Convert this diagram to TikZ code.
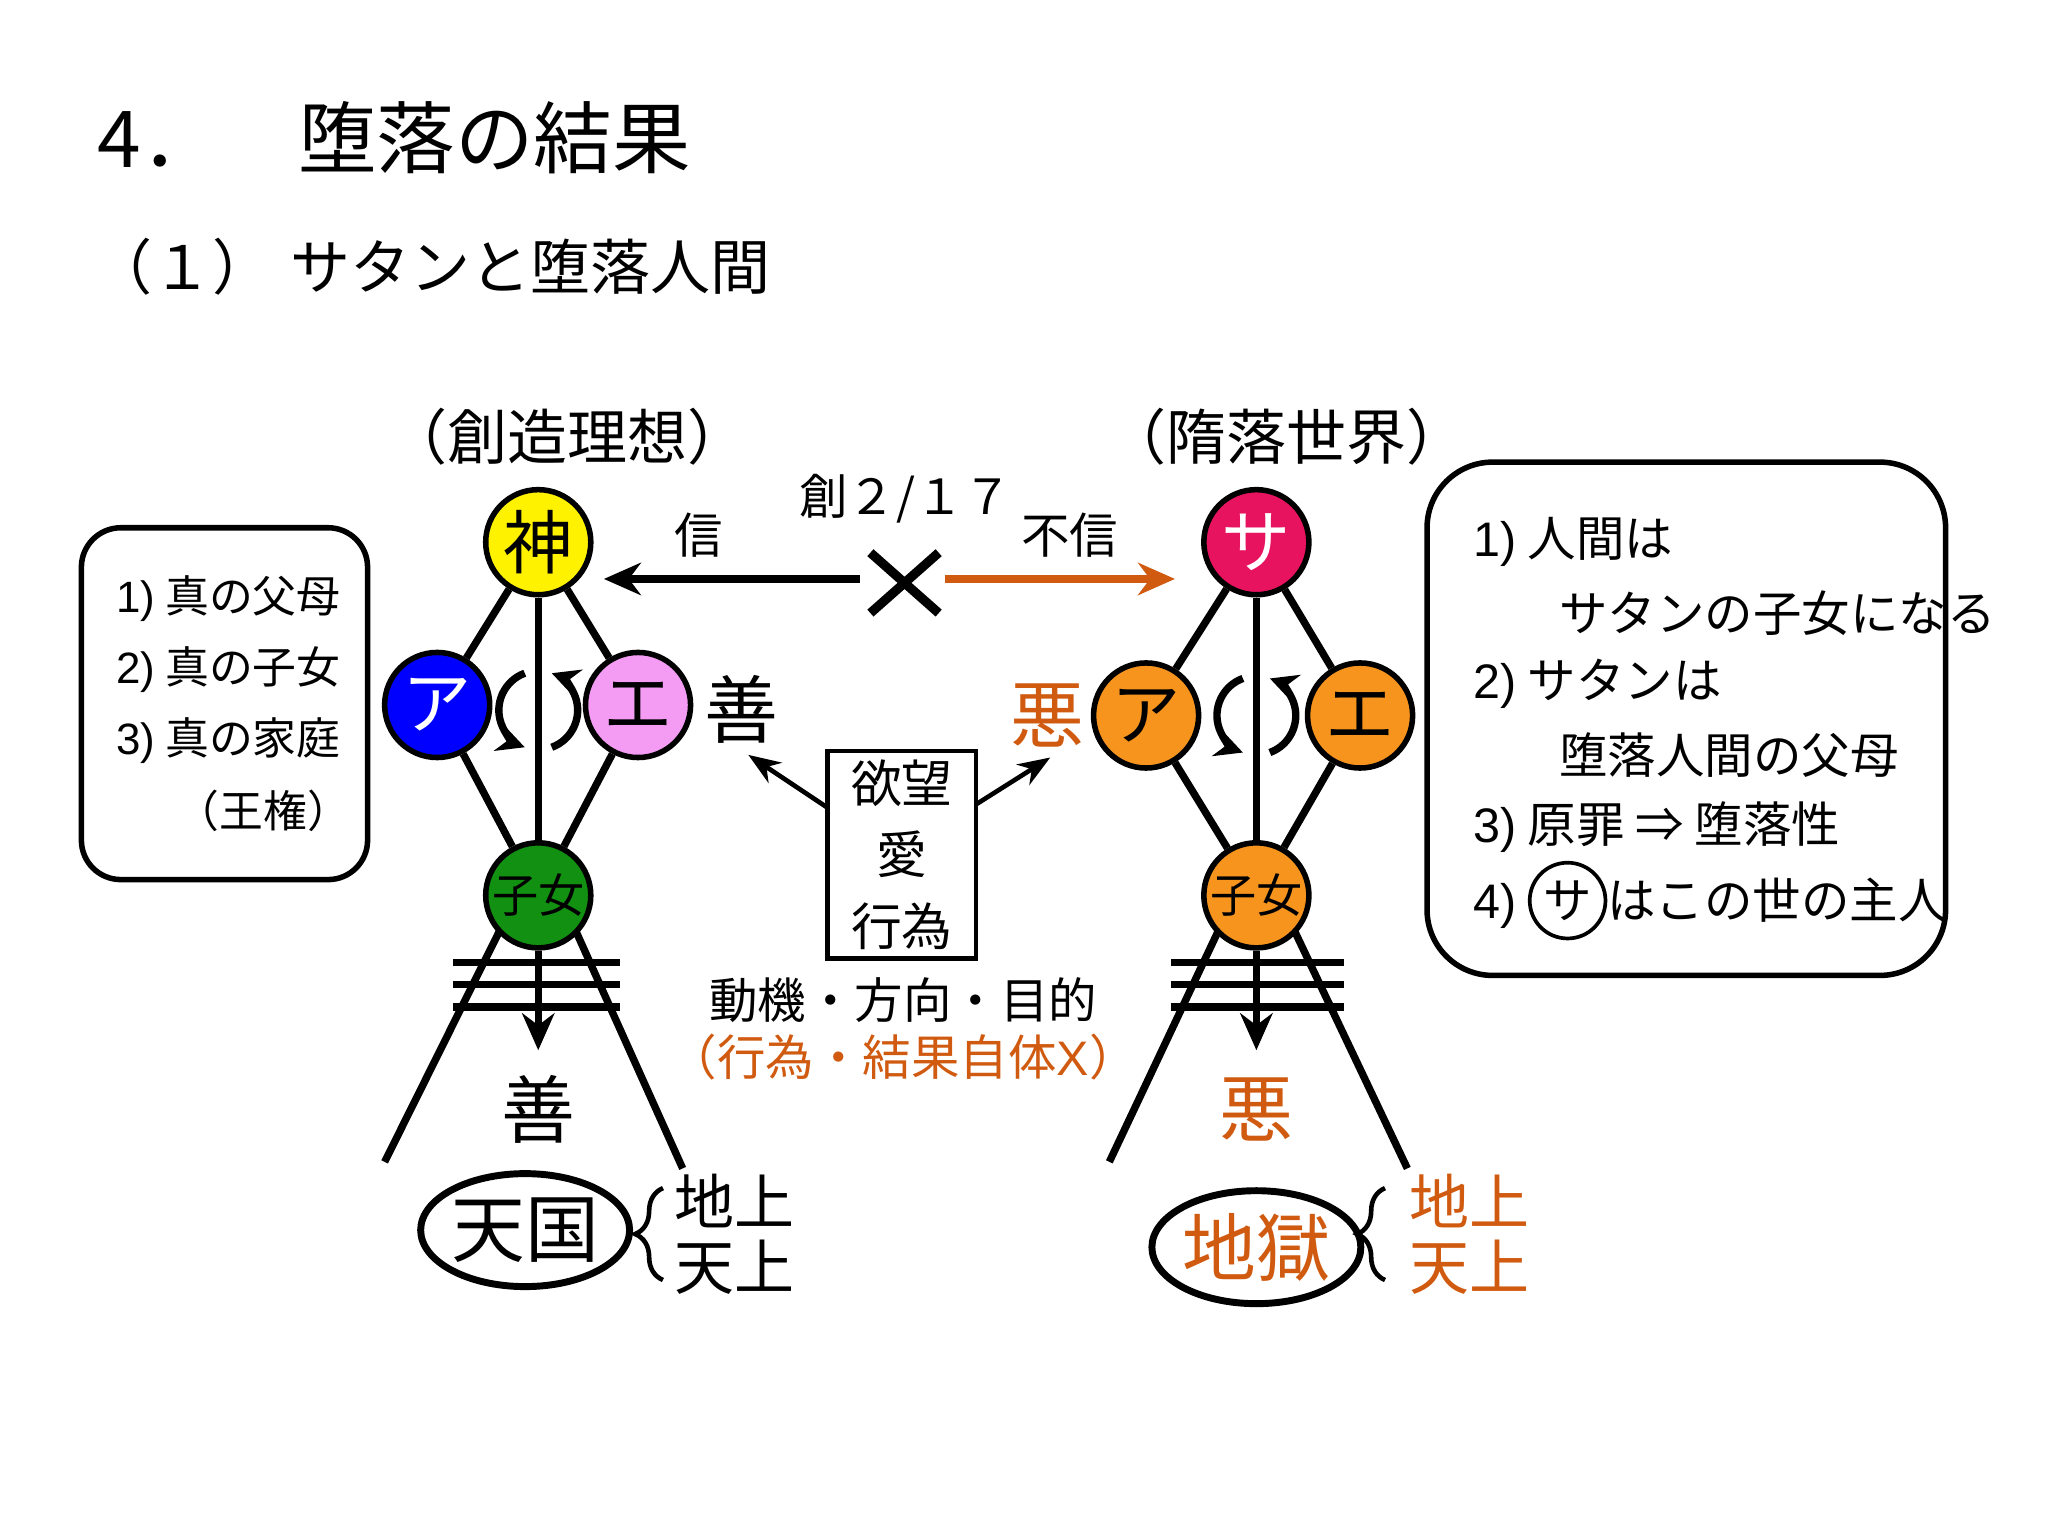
\documentclass[tikz,border=0pt]{standalone}
\usepackage{fontspec}
\setmainfont{Noto Sans CJK JP}
\newfontfamily\lat{Liberation Sans}
\usetikzlibrary{arrows.meta,decorations.pathreplacing,shapes.geometric}
\definecolor{evil}{HTML}{D05A10}
\definecolor{orng}{HTML}{F7941D}
\definecolor{crim}{HTML}{E8135F}
\definecolor{pnk}{HTML}{F49CF4}
\definecolor{grn}{HTML}{119011}
\tikzset{
 ball/.style={circle,draw,line width=1.2pt,minimum size=0.8cm,inner sep=0pt,font=\fontsize{15}{15}\selectfont},
 kid/.style={font=\fontsize{10}{10}\selectfont},
 ln/.style={line width=1.6pt},
 txt/.style={font=\fontsize{13}{13}\selectfont,inner sep=0pt},
 sm/.style={font=\fontsize{10.5}{14}\selectfont,inner sep=0pt},
 big/.style={font=\fontsize{16}{16}\selectfont,inner sep=0pt},
 arr/.style={line width=1.6pt,-{Stealth[length=8pt,width=7pt]}},
 rot/.style={line width=1.6pt,-{Stealth[length=6pt,width=6pt]}},
}
\begin{document}
\begin{tikzpicture}[x=0.01cm,y=-0.01cm]
\useasboundingbox (0,0) rectangle (1560,1170);
\node[anchor=west,font=\fontsize{17}{17}\selectfont] (t1) at (62,105) {4．\hspace{1em}堕落の結果};
\node[anchor=west,font=\fontsize{13}{13}\selectfont] (t2) at (58,203) {（１）\hspace{0.3em}サタンと堕落人間};

% ---- left diagram
\node[txt] (hl) at (432,333) {（創造理想）};
\coordinate (lbl) at (293,885); \coordinate (lbr) at (520,890);
\coordinate (lar) at (410,800);
\draw[ln] (390,690) -- (lbl); \draw[ln] (430,690) -- (lbr);
\foreach \y in {733,750,767} \draw[ln] (345,\y) -- (472,\y);
\node[ball,fill=yellow] (g) at (410,413) {神};
\node[ball,fill=blue,text=white] (a) at (333,537) {ア};
\node[ball,fill=pnk] (e) at (486,537) {エ};
\node[ball,fill=grn,kid] (c) at (410,682) {子女};
\draw[ln] (g)--(a); \draw[ln] (g)--(e); \draw[ln] (a)--(c); \draw[ln] (e)--(c);
\draw[ln] (g)--(c);
\draw[arr] (c.south) -- (lar);
\draw[rot,shift={(410,541)}] (110:0.3cm) arc[start angle=110,end angle=250,radius=0.3cm];
\draw[rot,shift={(410,541)}] (-70:0.3cm) arc[start angle=-70,end angle=70,radius=0.3cm];
\node[big] (gd) at (410,845) {善};
\node[draw,ellipse,line width=1.5pt,minimum width=1.36cm,minimum height=0.86cm,inner sep=0pt,big] (hv) at (400,937) {天国};
\draw[line width=1pt,decorate,decoration={brace,amplitude=6pt}] (505,975) -- (505,905);
\node[txt,anchor=west] (l1) at (513,915) {地上};
\node[txt,anchor=west] (l2) at (513,965) {天上};
\node[big] (gd2) at (565,540) {善};

% ---- right diagram
\node[txt] (hr) at (980,333) {（隋落世界）};
\coordinate (rbl) at (845,885); \coordinate (rbr) at (1072,890);
\coordinate (rar) at (957,800);
\draw[ln] (937,690) -- (rbl); \draw[ln] (977,690) -- (rbr);
\foreach \y in {733,750,767} \draw[ln] (892,\y) -- (1024,\y);
\node[ball,fill=crim,text=white] (s) at (957,413) {サ};
\node[ball,fill=orng] (a2) at (873,545) {ア};
\node[ball,fill=orng] (e2) at (1036,545) {エ};
\node[ball,fill=orng,kid] (c2) at (957,682) {子女};
\draw[ln] (s)--(a2); \draw[ln] (s)--(e2); \draw[ln] (a2)--(c2); \draw[ln] (e2)--(c2);
\draw[ln] (s)--(c2);
\draw[arr] (c2.south) -- (rar);
\draw[rot,shift={(957,545)}] (110:0.3cm) arc[start angle=110,end angle=250,radius=0.3cm];
\draw[rot,shift={(957,545)}] (-70:0.3cm) arc[start angle=-70,end angle=70,radius=0.3cm];
\node[big,text=evil] (ev) at (957,845) {悪};
\node[draw,ellipse,line width=1.5pt,minimum width=1.46cm,minimum height=0.86cm,inner sep=0pt,big,text=evil] (hl2) at (957,950) {地獄};
\draw[line width=1pt,decorate,decoration={brace,amplitude=6pt}] (1055,975) -- (1055,905);
\node[txt,anchor=west,text=evil] (r1) at (1073,915) {地上};
\node[txt,anchor=west,text=evil] (r2) at (1073,965) {天上};
\node[big,text=evil] (ev2) at (798,545) {悪};

% ---- center
\coordinate (xl) at (655,441); \coordinate (xr) at (720,441);
\draw[arr] (xl) -- (460,441);
\draw[arr,evil] (xr) -- (895,441);
\draw[line width=2pt] (663,421) -- (715,467) (715,421) -- (663,467);
\node[sm] (sh) at (532,408) {信};
\node[sm] (fs) at (815,408) {不信};
\node[sm] (gen) at (690,380) {創２/１７};
\node[draw,line width=1pt,minimum width=1.13cm,minimum height=1.58cm,inner sep=0pt,align=center,font=\fontsize{11}{15.5}\selectfont] (bx) at (687,651) {欲望\\愛\\行為};
\draw[line width=1pt,-{Stealth[length=7pt]}] (630,615) -- (570,575);
\draw[line width=1pt,-{Stealth[length=7pt]}] (743,613) -- (800,577);
\node[sm] (m1) at (688,762) {動機・方向・目的};
\node[sm,text=evil] (m2) at (688,805) {（行為・結果自体{\lat X}）};

% ---- boxes
\draw[line width=1.2pt,rounded corners=0.3cm] (62,402) rectangle (280,670);
\node[sm,anchor=west,font=\fontsize{9.5}{12}\selectfont] (b1) at (88,456) {{\lat 1)} 真の父母};
\node[sm,anchor=west,font=\fontsize{9.5}{12}\selectfont] (b2) at (88,510) {{\lat 2)} 真の子女};
\node[sm,anchor=west,font=\fontsize{9.5}{12}\selectfont] (b3) at (88,564) {{\lat 3)} 真の家庭};
\node[sm,anchor=east,font=\fontsize{9.5}{12}\selectfont] (b4) at (268,618) {（王権）};

\draw[line width=1.2pt,rounded corners=0.5cm] (1087,352) rectangle (1482,743);
\node[sm,anchor=west] (c1) at (1122,413) {{\lat 1)} 人間は};
\node[sm,anchor=west] (c2t) at (1187,467) {サタンの子女になる};
\node[sm,anchor=west] (c3) at (1122,521) {{\lat 2)} サタンは};
\node[sm,anchor=west] (c4) at (1187,575) {堕落人間の父母};
\node[sm,anchor=west] (c5) at (1122,630) {{\lat 3)} 原罪 ⇒ 堕落性};
\node[sm,anchor=west] (c6) at (1122,686) {{\lat 4)}\ \tikz[baseline=(q.base)]\node[circle,draw,inner sep=1pt,line width=0.8pt] (q) {サ};はこの世の主人};
\end{tikzpicture}
\end{document}
